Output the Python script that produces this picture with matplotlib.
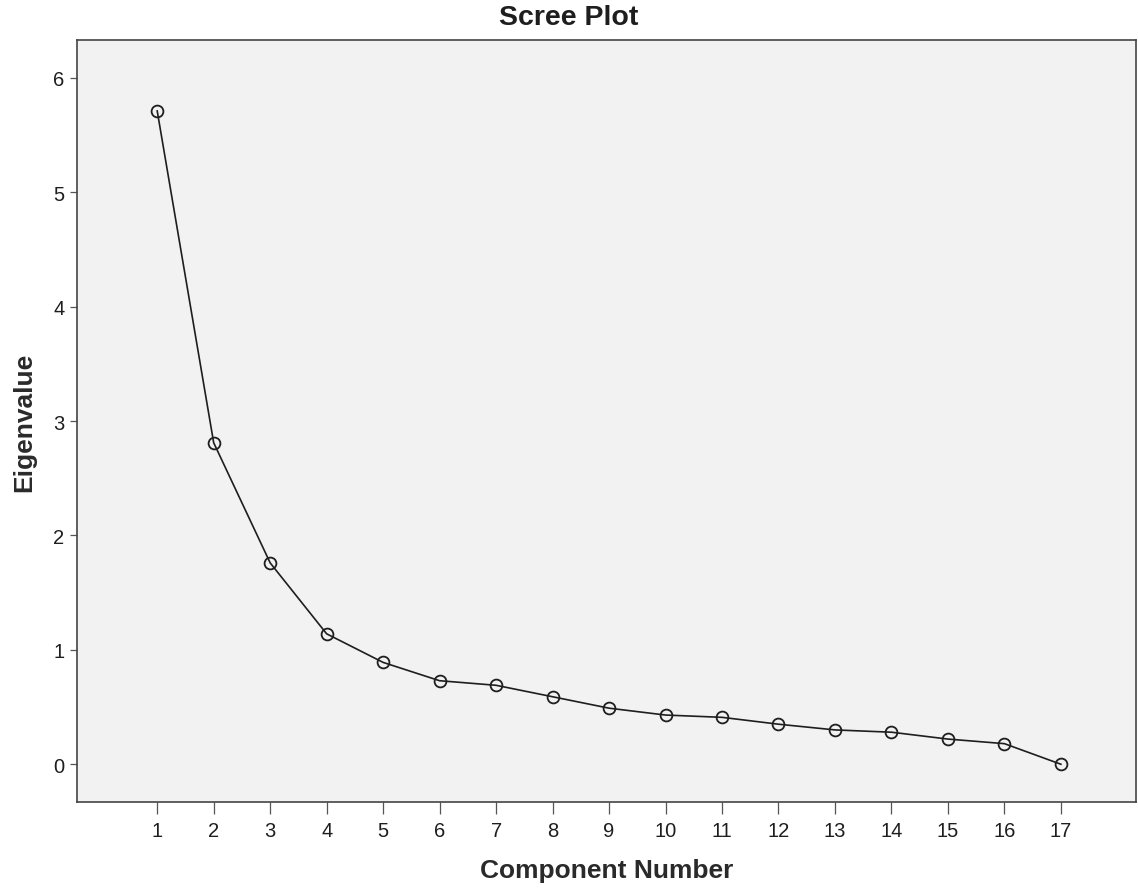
import numpy as np
import matplotlib.pyplot as plt

plt.rcParams['font.family'] = ['Liberation Sans', 'DejaVu Sans']

# eigenvalues
components = list(range(1, 18))
eigenvalues = [5.71, 2.81, 1.76, 1.14, 0.89, 0.73, 0.69, 0.59, 0.49,
               0.43, 0.41, 0.35, 0.30, 0.28, 0.22, 0.18, 0.00]

fig = plt.figure(figsize=(11.38, 8.95), dpi=100)
ax = fig.add_axes([77/1138, 92/895, (1136-77)/1138, (803-41)/895])
ax.set_facecolor('#f2f2f2')

ax.plot(components, eigenvalues, color='#1e1e1e', linewidth=1.2,
        marker='o', markersize=8.5, markerfacecolor='none',
        markeredgecolor='#1e1e1e', markeredgewidth=1.3)

ax.set_xlim(-0.42, 18.33)
ax.set_ylim(-0.33, 6.33)
ax.set_xticks(components)
ax.set_yticks(range(0, 7))

for s in ax.spines.values():
    s.set_color('#444444')
    s.set_linewidth(1.2)

ax.tick_params(axis='x', direction='out', length=8.5, width=0.9,
               color='#555555', labelsize=14.5, labelcolor='#1e1e1e', pad=5)
ax.tick_params(axis='y', direction='out', length=5, width=0.9,
               color='#555555', labelsize=14.5, labelcolor='#1e1e1e', pad=4)

ax.set_xlabel('Component Number', fontsize=19, fontweight='bold',
              color='#2a2a2a', labelpad=13)
ax.set_ylabel('Eigenvalue', fontsize=19, fontweight='bold',
              color='#2a2a2a', labelpad=12)
fig.text(0.5, 1 - 18/895, 'Scree Plot', ha='center', va='center',
         fontsize=20.5, fontweight='bold', color='#1e1e1e')

fig.savefig('out.png', dpi=100)
